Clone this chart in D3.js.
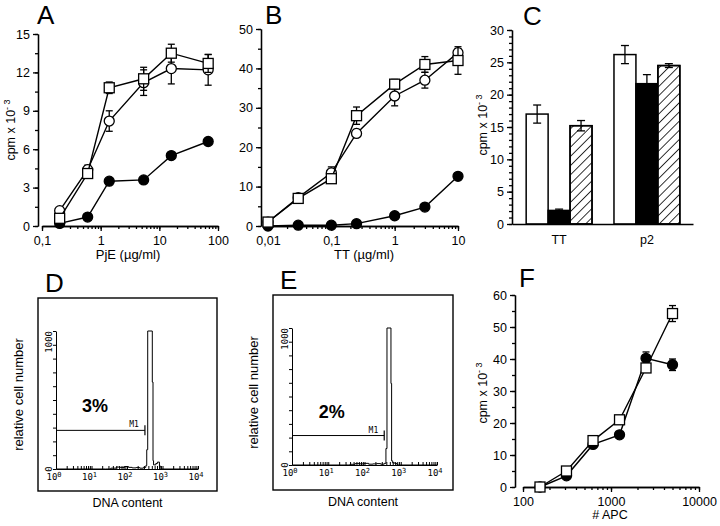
<!DOCTYPE html>
<html>
<head>
<meta charset="utf-8">
<script src="https://d3js.org/d3.v7.min.js"></script>
<style>
body { margin: 0; background: #fff; }
svg { font-family: "Liberation Sans", Arial, sans-serif; }
.ax path, .ax line { stroke: #000; stroke-width: 1.3; }
.ax text { font-size: 12.5px; fill: #000; font-family: "Liberation Sans", Arial, sans-serif; }
.hax path, .hax line { stroke: #000; stroke-width: 1; }
</style>
</head>
<body>
<div id="chart"></div>
<script>
// ---------- data ----------
// A: PjE dose response
var pjeDose = [0.2, 0.6, 1.4, 5.4, 16, 68];
var aSquare = [0.6, 4.1, 10.8, 11.5, 13.5, 12.7];
var aSquareErr = [0, 0.2, 0.45, 0.9, 0.7, 0.7];
var aCircle = [1.2, 4.4, 8.2, 11.2, 12.3, 12.2];
var aCircleErr = [0, 0.35, 0.8, 1.0, 1.2, 1.2];
var aFilled = [0.2, 0.7, 3.5, 3.6, 5.5, 6.6];
var aTicks = [0.1, 1, 10, 100], aTickLabels = ["0,1", "1", "10", "100"];

// B: TT dose response
var ttDose = [0.01, 0.03, 0.1, 0.25, 1, 3, 10];
var bSquare = [1, 7, 12, 28, 36, 41, 42];
var bSquareErr = [0, 0, 0, 2.2, 1.2, 2, 3.5];
var bCircle = [1, 7.2, 13.5, 23.5, 33, 37, 44];
var bCircleErr = [0, 0, 1.5, 1, 2.5, 2, 1];
var bFilled = [0, 0.2, 0.2, 0.6, 2.6, 4.8, 12.6];
var bTicks = [0.01, 0.1, 1, 10], bTickLabels = ["0,01", "0,1", "1", "10"];

// C: bars
var cGroups = ["TT", "p2"];
var cSeries = ["open", "filled", "hatched"];
var cOpen = [17, 26.2], cOpenErr = [1.4, 1.4];
var cFilled = [2.1, 21.7], cFilledErr = [0.2, 1.4];
var cHatched = [15.2, 24.5], cHatchedErr = [0.8, 0.3];

// D / E: DNA content histograms
var dDna = [1, 25, 35, 50, 65, 85, 110, 140, 180, 230, 290, 340, 360, 383, 516, 540, 560, 650, 720, 820, 900, 10000];
var dCount = [0, 0, 6, 14, 10, 18, 12, 8, 10, 6, 12, 25, 140, 1000, 630, 60, 30, 40, 50, 20, 0, 0];
var eDna = [1, 30, 40, 55, 75, 100, 130, 170, 220, 280, 350, 390, 417, 537, 560, 600, 700, 800, 10000];
var eCount = [0, 0, 5, 10, 8, 12, 6, 8, 10, 6, 12, 120, 1000, 595, 30, 15, 10, 0, 0];
var gateHi = [320, 350];
var gateY = [280, 215];
var gatePct = ["3%", "2%"];
var decades = [1, 10, 100, 1000, 10000];

// F: APC titration
var apc = [156, 312, 625, 1250, 2500, 5000];
var fSquare = [0, 5, 14.5, 21, 37.2, 54.2];
var fSquareErr = [0, 0, 0, 0, 1.2, 2.5];
var fFilled = [0, 3.5, 13.3, 16.3, 40.2, 38.2];
var fFilledErr = [0, 0, 0, 0, 2, 1.8];
var fTicks = [100, 1000, 10000], fTickLabels = ["100", "1000", "10000"];

// ---------- drawing ----------
var svg = d3.select("#chart").append("svg").attr("width", 720).attr("height", 526);

var defs = svg.append("defs");
defs.append("pattern").attr("id", "hatch").attr("patternUnits", "userSpaceOnUse")
  .attr("width", 6.5).attr("height", 6.5).attr("patternTransform", "rotate(45)")
  .append("line").attr("x1", 0).attr("y1", 0).attr("x2", 0).attr("y2", 6.5)
  .attr("stroke", "#000").attr("stroke-width", 1.6);

function panelLetter(t, x, y) {
  svg.append("text").attr("x", x).attr("y", y).attr("font-size", 26).text(t);
}

function cpmTitle(x, y) {
  var t = svg.append("text").attr("transform", "translate(" + x + "," + y + ") rotate(-90)")
    .attr("text-anchor", "middle").attr("font-size", 12.5).text("cpm  x  10");
  t.append("tspan").attr("font-size", 9).attr("dy", -5).text("- 3");
}

function yAxis(y, x0, majors, minors, pad) {
  svg.append("g").attr("class", "ax").attr("transform", "translate(" + x0 + ",0)")
    .call(d3.axisLeft(y).tickValues(minors).tickSize(3).tickFormat("").tickSizeOuter(0));
  svg.append("g").attr("class", "ax").attr("transform", "translate(" + x0 + ",0)")
    .call(d3.axisLeft(y).tickValues(majors).tickSize(5).tickPadding(pad || 2).tickSizeOuter(0));
}

function logXAxis(x, y0, majors, labels) {
  svg.append("g").attr("class", "ax").attr("transform", "translate(0," + y0 + ")")
    .call(d3.axisBottom(x).tickValues(x.ticks()).tickSize(3).tickFormat("").tickSizeOuter(0));
  svg.append("g").attr("class", "ax").attr("transform", "translate(0," + y0 + ")")
    .call(d3.axisBottom(x).tickValues(majors).tickSize(5).tickPadding(5).tickSizeOuter(0)
      .tickFormat(function(d, i) { return labels[i]; }));
}

function series(xs, ys, errs, x, y, shape, fill) {
  var pts = xs.map(function(d, i) { return { x: d, y: ys[i], e: errs ? errs[i] : 0 }; });
  var g = svg.append("g");
  g.append("path").datum(pts)
    .attr("d", d3.line().x(function(d) { return x(d.x); }).y(function(d) { return y(d.y); }))
    .attr("fill", "none").attr("stroke", "#000").attr("stroke-width", 1.4);
  return { g: g, pts: pts, x: x, y: y, shape: shape, fill: fill };
}

function drawErrors(s) {
  var eb = s.g.selectAll(".eb").data(s.pts.filter(function(d) { return d.e > 0; })).enter().append("g");
  eb.append("line").attr("x1", function(d) { return s.x(d.x); }).attr("x2", function(d) { return s.x(d.x); })
    .attr("y1", function(d) { return s.y(d.y - d.e); }).attr("y2", function(d) { return s.y(d.y + d.e); })
    .attr("stroke", "#000").attr("stroke-width", 1.3);
  [-1, 1].forEach(function(sg) {
    eb.append("line").attr("x1", function(d) { return s.x(d.x) - 3.5; }).attr("x2", function(d) { return s.x(d.x) + 3.5; })
      .attr("y1", function(d) { return s.y(d.y + sg * d.e); }).attr("y2", function(d) { return s.y(d.y + sg * d.e); })
      .attr("stroke", "#000").attr("stroke-width", 1.3);
  });
}

function drawMarkers(s) {
  if (s.shape === "square") {
    s.g.selectAll(".mk").data(s.pts).enter().append("rect")
      .attr("x", function(d) { return s.x(d.x) - 5; }).attr("y", function(d) { return s.y(d.y) - 5; })
      .attr("width", 10).attr("height", 10)
      .attr("fill", s.fill).attr("stroke", "#000").attr("stroke-width", 1.3);
  } else {
    s.g.selectAll(".mk").data(s.pts).enter().append("circle")
      .attr("cx", function(d) { return s.x(d.x); }).attr("cy", function(d) { return s.y(d.y); })
      .attr("r", 5).attr("fill", s.fill).attr("stroke", "#000").attr("stroke-width", 1.3);
  }
}

function plotAll(list) {
  list.forEach(drawErrors);
  list.forEach(drawMarkers);
}

// ----- Panel A -----
(function() {
  var x = d3.scaleLog().domain([0.1, 100]).range([42, 218]);
  var y = d3.scaleLinear().domain([0, 15]).range([226, 34]);
  yAxis(y, 38, d3.range(0, 16, 3), d3.range(0, 15.1, 1.5), 3);
  logXAxis(x, 226, aTicks, aTickLabels);
  var s1 = series(pjeDose, aFilled, null, x, y, "circle", "#000");
  var s2 = series(pjeDose, aCircle, aCircleErr, x, y, "circle", "#fff");
  var s3 = series(pjeDose, aSquare, aSquareErr, x, y, "square", "#fff");
  plotAll([s1, s2, s3]);
  panelLetter("A", 37, 24);
  cpmTitle(15, 130);
  svg.append("text").attr("x", 128).attr("y", 259).attr("text-anchor", "middle").attr("font-size", 13).text("PjE (µg/ml)");
})();

// ----- Panel B -----
(function() {
  var x = d3.scaleLog().domain([0.01, 10]).range([268, 458]);
  var y = d3.scaleLinear().domain([0, 50]).range([226, 29]);
  yAxis(y, 261, d3.range(0, 51, 10), d3.range(0, 50.1, 5), 3);
  logXAxis(x, 226, bTicks, bTickLabels);
  var s1 = series(ttDose, bFilled, null, x, y, "circle", "#000");
  var s2 = series(ttDose, bCircle, bCircleErr, x, y, "circle", "#fff");
  var s3 = series(ttDose, bSquare, bSquareErr, x, y, "square", "#fff");
  plotAll([s1, s2, s3]);
  panelLetter("B", 265, 24);
  svg.append("text").attr("x", 364).attr("y", 259).attr("text-anchor", "middle").attr("font-size", 13).text("TT (µg/ml)");
})();

// ----- Panel C -----
(function() {
  var y = d3.scaleLinear().domain([0, 30]).range([224, 30]);
  var x0 = d3.scaleBand().domain(cGroups).range([513, 693]).paddingInner(0.25).paddingOuter(0.15);
  var x1 = d3.scaleBand().domain(cSeries).range([0, x0.bandwidth()]);
  var vals = { open: cOpen, filled: cFilled, hatched: cHatched };
  var errs = { open: cOpenErr, filled: cFilledErr, hatched: cHatchedErr };
  var fills = { open: "#fff", filled: "#000", hatched: "#fff" };
  var bars = [];
  cGroups.forEach(function(gname, gi) {
    cSeries.forEach(function(sname) {
      bars.push({ g: gname, s: sname, v: vals[sname][gi], e: errs[sname][gi] });
    });
  });
  var bg = svg.append("g");
  bg.selectAll("rect.bar").data(bars).enter().append("rect")
    .attr("x", function(d) { return x0(d.g) + x1(d.s); })
    .attr("y", function(d) { return y(d.v); })
    .attr("width", x1.bandwidth())
    .attr("height", function(d) { return y(0) - y(d.v); })
    .attr("fill", function(d) { return fills[d.s]; })
    .attr("stroke", "#000").attr("stroke-width", 1.5);
  bg.selectAll("rect.hatch").data(bars.filter(function(d) { return d.s === "hatched"; })).enter().append("rect")
    .attr("x", function(d) { return x0(d.g) + x1(d.s); })
    .attr("y", function(d) { return y(d.v); })
    .attr("width", x1.bandwidth())
    .attr("height", function(d) { return y(0) - y(d.v); })
    .attr("fill", "url(#hatch)").attr("stroke", "#000").attr("stroke-width", 1.5);
  var cx = function(d) { return x0(d.g) + x1(d.s) + x1.bandwidth() / 2; };
  var eb = bg.selectAll("g.eb").data(bars).enter().append("g");
  eb.append("line").attr("x1", cx).attr("x2", cx)
    .attr("y1", function(d) { return y(d.v - d.e); }).attr("y2", function(d) { return y(d.v + d.e); })
    .attr("stroke", "#000").attr("stroke-width", 1.3);
  [-1, 1].forEach(function(sg) {
    eb.append("line").attr("x1", function(d) { return cx(d) - 4; }).attr("x2", function(d) { return cx(d) + 4; })
      .attr("y1", function(d) { return y(d.v + sg * d.e); }).attr("y2", function(d) { return y(d.v + sg * d.e); })
      .attr("stroke", "#000").attr("stroke-width", 1.3);
  });
  yAxis(y, 512, d3.range(0, 31, 5), d3.range(0, 30.1, 1), 3);
  svg.append("g").attr("class", "ax").attr("transform", "translate(0,224)")
    .call(d3.axisBottom(d3.scaleLinear().range([512, 693])).tickValues([]).tickSizeOuter(0));
  bg.selectAll("text.grp").data(cGroups).enter().append("text")
    .attr("x", function(d) { return x0(d) + x0.bandwidth() / 2; }).attr("y", 244)
    .attr("text-anchor", "middle").attr("font-size", 12.5).text(function(d) { return d; });
  panelLetter("C", 523, 25);
  cpmTitle(487, 125);
})();

// ----- Panels D and E -----
function histPanel(idx, letter, box, plot, dna, count) {
  svg.append("rect").attr("x", box[0]).attr("y", box[1]).attr("width", box[2] - box[0]).attr("height", box[3] - box[1])
    .attr("fill", "none").attr("stroke", "#000").attr("stroke-width", 1.4);
  var x = d3.scaleLog().domain([1, 10000]).range([plot[0], plot[2]]);
  var y = d3.scaleLinear().domain([0, 1000]).range([plot[3], plot[1]]);
  svg.append("g").attr("class", "hax").attr("transform", "translate(" + plot[0] + ",0)")
    .call(d3.axisLeft(y).tickValues(d3.range(0, 1001, 100)).tickSize(3).tickFormat("").tickSizeOuter(0));
  svg.append("g").attr("class", "hax").attr("transform", "translate(0," + plot[3] + ")")
    .call(d3.axisBottom(x).tickValues(x.ticks()).tickSizeInner(-3).tickFormat("").tickSizeOuter(0));
  var mono = '"DejaVu Sans Mono", monospace';
  svg.append("text").attr("transform", "translate(" + (plot[0] - 4) + "," + y(1000) + ") rotate(-90)")
    .attr("text-anchor", "end").attr("font-family", mono).attr("font-size", 9).text("1000");
  svg.append("text").attr("transform", "translate(" + (plot[0] - 4) + "," + y(0) + ") rotate(-90)")
    .attr("text-anchor", "middle").attr("font-family", mono).attr("font-size", 9).text("0");
  decades.forEach(function(d, i) {
    var t = svg.append("text").attr("x", x(d) - 2).attr("y", plot[3] + 11).attr("text-anchor", "middle")
      .attr("font-family", mono).attr("font-size", 9).text("10");
    t.append("tspan").attr("dy", -3).attr("font-size", 7).text(i);
  });
  var pts = dna.map(function(d, i) { return [d, count[i]]; });
  svg.append("path").datum(pts)
    .attr("d", d3.line().curve(d3.curveStepAfter).x(function(d) { return x(d[0]); }).y(function(d) { return y(d[1]); }))
    .attr("fill", "none").attr("stroke", "#000").attr("stroke-width", 1);
  // M1 gate
  var gy = y(gateY[idx]);
  svg.append("line").attr("x1", x(1)).attr("x2", x(gateHi[idx])).attr("y1", gy).attr("y2", gy).attr("stroke", "#000").attr("stroke-width", 1);
  svg.append("line").attr("x1", x(gateHi[idx])).attr("x2", x(gateHi[idx])).attr("y1", gy - 5).attr("y2", gy + 5).attr("stroke", "#000").attr("stroke-width", 1.2);
  svg.append("text").attr("x", x(gateHi[idx]) - 6).attr("y", gy - 3).attr("text-anchor", "end")
    .attr("font-family", mono).attr("font-size", 8).text("M1");
  svg.append("text").attr("x", x(12.5)).attr("y", y(gateY[idx] + 130)).attr("text-anchor", "middle")
    .attr("font-size", 18).attr("font-weight", "bold").text(gatePct[idx]);
  svg.append("text").attr("transform", "translate(" + (box[0] - 15) + "," + ((box[1] + box[3]) / 2) + ") rotate(-90)")
    .attr("text-anchor", "middle").attr("font-size", 13).text("relative  cell  number");
  svg.append("text").attr("x", (box[0] + box[2]) / 2).attr("y", box[3] + 16).attr("text-anchor", "middle")
    .attr("font-size", 12.5).text("DNA  content");
  panelLetter(letter, box[0] + 7, box[1] - 6);
}
histPanel(0, "D", [38, 298, 217, 491], [56, 331, 198, 469], dDna, dCount);
histPanel(1, "E", [273, 295, 453, 490], [292, 328, 437, 465], eDna, eCount);

// ----- Panel F -----
(function() {
  var x = d3.scaleLog().domain([100, 10000]).range([523, 699]);
  var y = d3.scaleLinear().domain([0, 60]).range([487, 295]);
  yAxis(y, 515, d3.range(0, 61, 10), d3.range(0, 60.1, 5), 3);
  logXAxis(x, 487, fTicks, fTickLabels);
  var s1 = series(apc, fFilled, fFilledErr, x, y, "circle", "#000");
  var s2 = series(apc, fSquare, fSquareErr, x, y, "square", "#fff");
  plotAll([s1, s2]);
  panelLetter("F", 519, 287);
  cpmTitle(487, 393);
  svg.append("text").attr("x", 610).attr("y", 519).attr("text-anchor", "middle").attr("font-size", 12.5).text("# APC");
})();
</script>
</body>
</html>
